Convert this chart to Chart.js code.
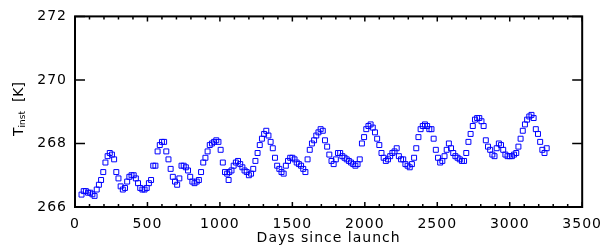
<!DOCTYPE html>
<html>
<head>
<meta charset="utf-8">
<script src="https://cdn.jsdelivr.net/npm/chart.js@4/dist/chart.umd.min.js"></script>
<style>
  html, body { margin: 0; padding: 0; background: #fff; }
  #wrap { width: 609px; height: 247px; }
</style>
</head>
<body>
<div id="wrap"><canvas id="myChart"></canvas></div>
<script>
// days since launch
let days = [
  45, 60, 75, 90, 105, 120, 135, 150, 165, 180, 195, 210, 225, 240, 255, 270, 285, 300, 315, 330,
  345, 360, 375, 390, 405, 420, 435, 450, 465, 480, 495, 510, 525, 540, 555, 570, 585, 600, 615, 630,
  645, 660, 675, 690, 705, 720, 735, 750, 765, 780, 795, 810, 825, 840, 855, 870, 885, 900, 915, 930,
  945, 960, 975, 990, 1005, 1020, 1035, 1050, 1060, 1065, 1080, 1095, 1110, 1125, 1140, 1155, 1170, 1185, 1200, 1215,
  1230, 1245, 1260, 1275, 1290, 1305, 1320, 1335, 1350, 1365, 1380, 1395, 1410, 1425, 1440, 1455, 1470, 1485, 1500, 1515,
  1530, 1545, 1560, 1575, 1590, 1605, 1620, 1635, 1650, 1665, 1680, 1695, 1710, 1725, 1740, 1755, 1770, 1785, 1800, 1815,
  1830, 1845, 1860, 1875, 1890, 1905, 1920, 1935, 1950, 1965, 1980, 1995, 2010, 2025, 2040, 2055, 2070, 2085, 2100, 2115,
  2130, 2145, 2160, 2175, 2190, 2205, 2220, 2235, 2250, 2265, 2280, 2295, 2310, 2325, 2340, 2355, 2370, 2385, 2400, 2415,
  2430, 2445, 2460, 2475, 2490, 2505, 2520, 2535, 2550, 2565, 2580, 2595, 2610, 2625, 2640, 2655, 2670, 2685, 2700, 2715,
  2730, 2745, 2760, 2775, 2790, 2805, 2820, 2835, 2850, 2865, 2880, 2895, 2910, 2925, 2940, 2955, 2970, 2985, 3000, 3015,
  3030, 3045, 3060, 3075, 3090, 3105, 3120, 3135, 3150, 3165, 3180, 3195, 3210, 3225, 3240, 3255
];
// instrument temperature [K]
let tinst = [
  266.39, 266.50, 266.50, 266.45, 266.45, 266.40, 266.35, 266.55, 266.70, 266.85, 267.10, 267.40, 267.60, 267.70, 267.65, 267.50, 267.10, 266.90, 266.65, 266.55,
  266.60, 266.80, 266.95, 267.00, 267.00, 266.90, 266.75, 266.60, 266.55, 266.55, 266.60, 266.75, 266.85, 267.30, 267.30, 267.75, 267.95, 268.05, 268.05, 267.75,
  267.50, 267.20, 266.95, 266.80, 266.70, 266.90, 267.30, 267.30, 267.25, 267.15, 266.95, 266.80, 266.75, 266.80, 266.85, 267.10, 267.40, 267.55, 267.75, 267.95,
  268.00, 268.05, 268.10, 268.05, 267.80, 267.40, 267.10, 267.05, 266.85, 267.10, 267.15, 267.30, 267.40, 267.45, 267.35, 267.25, 267.15, 267.10, 267.00, 267.05,
  267.20, 267.45, 267.70, 267.95, 268.15, 268.30, 268.40, 268.25, 268.05, 267.85, 267.55, 267.30, 267.20, 267.10, 267.05, 267.30, 267.45, 267.55, 267.55, 267.50,
  267.40, 267.35, 267.30, 267.20, 267.10, 267.50, 267.80, 268.00, 268.10, 268.25, 268.35, 268.45, 268.40, 268.10, 267.90, 267.65, 267.45, 267.35, 267.50, 267.70,
  267.70, 267.60, 267.55, 267.50, 267.45, 267.40, 267.35, 267.30, 267.35, 267.50, 268.00, 268.20, 268.45, 268.55, 268.60, 268.50, 268.35, 268.15, 267.95, 267.70,
  267.55, 267.45, 267.50, 267.60, 267.70, 267.75, 267.85, 267.60, 267.50, 267.50, 267.35, 267.30, 267.25, 267.35, 267.55, 267.85, 268.20, 268.45, 268.55, 268.60,
  268.55, 268.45, 268.45, 268.15, 267.80, 267.55, 267.40, 267.45, 267.60, 267.80, 268.00, 267.85, 267.70, 267.60, 267.55, 267.50, 267.45, 267.45, 267.70, 268.05,
  268.30, 268.55, 268.75, 268.80, 268.80, 268.70, 268.55, 268.10, 267.90, 267.80, 267.65, 267.60, 267.85, 268.00, 267.95, 267.80, 267.65, 267.60, 267.60, 267.60,
  267.65, 267.70, 267.90, 268.15, 268.40, 268.60, 268.75, 268.85, 268.90, 268.80, 268.45, 268.30, 268.05, 267.80, 267.70, 267.85
];
let xTicks = [0, 500, 1000, 1500, 2000, 2500, 3000, 3500];
let xMinorStep = 100;
let yTicks = [266, 268, 270, 272];

let points = days.map(function (d, i) { return { x: d, y: tinst[i] }; });

const font = { family: 'DejaVu Sans', size: 14 };

// IDL-style box with inward ticks, plus the y title with subscript
const frame = {
  id: 'frame',
  beforeDraw(chart) {
    chart.ctx.letterSpacing = '1px';
  },
  afterDraw(chart) {
    const ctx = chart.ctx;
    const a = chart.chartArea;
    const xs = chart.scales.x, ys = chart.scales.y;
    ctx.save();
    ctx.strokeStyle = '#000';
    ctx.lineWidth = 2;
    ctx.strokeRect(a.left, a.top, a.right - a.left, a.bottom - a.top);
    ctx.lineWidth = 1.5;
    ctx.beginPath();
    for (let v = xTicks[0]; v <= xTicks[xTicks.length - 1]; v += xMinorStep) {
      const px = xs.getPixelForValue(v);
      const len = xTicks.includes(v) ? 5 : 3;
      ctx.moveTo(px, a.bottom); ctx.lineTo(px, a.bottom - len);
      ctx.moveTo(px, a.top); ctx.lineTo(px, a.top + len);
    }
    yTicks.forEach(function (v) {
      const py = ys.getPixelForValue(v);
      ctx.moveTo(a.left, py); ctx.lineTo(a.left + 10, py);
      ctx.moveTo(a.right, py); ctx.lineTo(a.right - 10, py);
    });
    ctx.stroke();

    // y title: T_inst [K]
    ctx.fillStyle = '#000';
    ctx.letterSpacing = '0px';
    ctx.translate(19, 109);
    ctx.rotate(-Math.PI / 2);
    ctx.textBaseline = 'middle';
    ctx.textAlign = 'left';
    ctx.font = '14px "DejaVu Sans"';
    const wT = ctx.measureText('T').width;
    const wK = ctx.measureText('  [K]').width;
    ctx.font = '9px "DejaVu Sans"';
    const wS = ctx.measureText('inst').width;
    let x0 = -(wT + wS + wK) / 2;
    ctx.font = '14px "DejaVu Sans"';
    ctx.fillText('T', x0, 0);
    ctx.font = '9px "DejaVu Sans"';
    ctx.fillText('inst', x0 + wT, 4);
    ctx.font = '14px "DejaVu Sans"';
    ctx.fillText('  [K]', x0 + wT + wS, 0);
    ctx.restore();
  }
};

let ctx = document.getElementById('myChart').getContext('2d');

let myChart = new Chart(ctx, {
  type: 'scatter',
  data: {
    datasets: [{
      data: points,
      pointStyle: 'rect',
      radius: 3.5,
      borderWidth: 1,
      borderColor: '#0000ff',
      backgroundColor: 'rgba(0,0,0,0)'
    }]
  },
  options: {
    responsive: true,
    maintainAspectRatio: false,
    animation: false,
    layout: { padding: { left: 0, right: 20, top: 14, bottom: 0 } },
    plugins: {
      legend: { display: false },
      tooltip: { enabled: false }
    },
    scales: {
      x: {
        type: 'linear',
        min: 0,
        max: 3500,
        grid: { display: false, drawTicks: false },
        border: { display: false },
        afterFit: function (s) { s.height = 40; },
        afterBuildTicks: function (s) { s.ticks = xTicks.map(function (v) { return { value: v }; }); },
        ticks: {
          color: '#000', font: font, padding: 9, maxRotation: 0,
          callback: function (value) { return String(value); }
        },
        title: {
          display: true,
          text: 'Days since launch',
          color: '#000',
          font: font,
          padding: { top: 0, bottom: 0 }
        }
      },
      y: {
        min: 266,
        max: 272,
        grid: { display: false, drawTicks: false },
        border: { display: false },
        afterFit: function (s) { s.width = 75; },
        afterBuildTicks: function (s) { s.ticks = yTicks.map(function (v) { return { value: v }; }); },
        ticks: {
          color: '#000', font: font, padding: 8,
          callback: function (value) { return String(value); }
        }
      }
    }
  },
  plugins: [frame]
});
</script>
</body>
</html>
